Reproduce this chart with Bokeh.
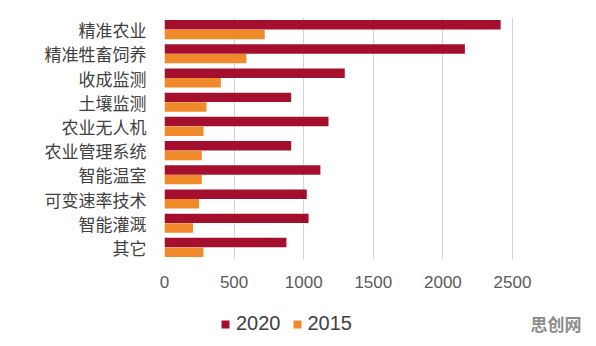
from bokeh.plotting import figure
from bokeh.layouts import column
from bokeh.models import FactorRange, Range1d, Legend, LegendItem, Label, ColumnDataSource
from bokeh.transform import dodge
from bokeh.embed import file_html
from bokeh.resources import INLINE

categories = ["精准农业", "精准牲畜饲养", "收成监测", "土壤监测", "农业无人机",
              "农业管理系统", "智能温室", "可变速率技术", "智能灌溉", "其它"]
values_2020 = [2415, 2158, 1295, 910, 1178, 910, 1120, 1022, 1035, 876]
values_2015 = [720, 588, 405, 302, 280, 268, 268, 248, 205, 280]
series_names = ["2020", "2015"]
x_ticks = [0, 500, 1000, 1500, 2000, 2500]

COL_2020 = "#a50f2e"
COL_2015 = "#f0892a"

src = ColumnDataSource(dict(cat=categories, v2020=values_2020, v2015=values_2015))

# frame spans x 164..596 px; 2500 lands at x=512, the rest is empty white space
p = figure(width=596, height=300, output_backend="svg", toolbar_location=None,
           y_range=FactorRange(factors=list(reversed(categories)), range_padding=0),
           x_range=Range1d(0, 2500 * 432 / 348),
           min_border_left=164, min_border_right=0, min_border_top=17, min_border_bottom=41)

r1 = p.hbar(y=dodge("cat", 0.2, range=p.y_range), right="v2020", left=0, height=0.39,
            source=src, fill_color=COL_2020, line_color=None)
r2 = p.hbar(y=dodge("cat", -0.2, range=p.y_range), right="v2015", left=0, height=0.39,
            source=src, fill_color=COL_2015, line_color=None)

p.outline_line_color = None
p.ygrid.grid_line_color = None
p.xgrid.grid_line_color = "#d4d4d4"
p.xaxis.ticker = x_ticks
p.xaxis.axis_line_color = None
p.xaxis.major_tick_line_color = None
p.xaxis.minor_tick_line_color = None
p.xaxis.major_label_text_font = "Liberation Sans"
p.xaxis.major_label_text_font_size = "17px"
p.xaxis.major_label_text_color = "#595959"
p.xaxis.major_label_standoff = 10

p.yaxis.axis_line_color = None
p.yaxis.major_tick_line_color = None
p.yaxis.minor_tick_line_color = None
p.yaxis.major_label_text_font = "Noto Sans CJK SC"
p.yaxis.major_label_text_font_size = "17px"
p.yaxis.major_label_text_color = "#404040"
p.yaxis.major_label_standoff = 12

# legend strip (its frame is aligned with the main plot's frame: x 164..596)
p2 = figure(width=596, height=46, output_backend="svg", toolbar_location=None,
            x_range=Range1d(0, 432), y_range=Range1d(0, 46),
            x_axis_type=None, y_axis_type=None,
            min_border_left=164, min_border_right=0, min_border_top=0, min_border_bottom=0)
p2.outline_line_color = None
p2.grid.grid_line_color = None
# zero-length, off-range proxies that only supply the legend swatches
proxy = ColumnDataSource(dict(y=[-100], right=[0]))
l1 = p2.hbar(y="y", right="right", left=0, height=1, source=proxy,
             fill_color=COL_2020, line_color=None)
l2 = p2.hbar(y="y", right="right", left=0, height=1, source=proxy,
             fill_color=COL_2015, line_color=None)

legend = Legend(items=[LegendItem(label=series_names[0], renderers=[l1], index=0),
                       LegendItem(label=series_names[1], renderers=[l2], index=0)],
                orientation="horizontal", location=(56, 11),
                glyph_width=10, glyph_height=10, label_standoff=6, spacing=11,
                label_text_font="Liberation Sans", label_text_font_size="20px",
                label_text_color="#404040", background_fill_alpha=0,
                border_line_color=None, padding=4, margin=0)
p2.add_layout(legend, "center")

wm = Label(x=366, y=11, x_units="screen", y_units="screen", text="思创网",
           text_font="Noto Sans CJK SC", text_font_size="17px", text_font_style="bold",
           text_color="#8c8c8c")
p2.add_layout(wm)

layout = column(p, p2, spacing=0)
open("out.html", "w").write(file_html(layout, INLINE))
